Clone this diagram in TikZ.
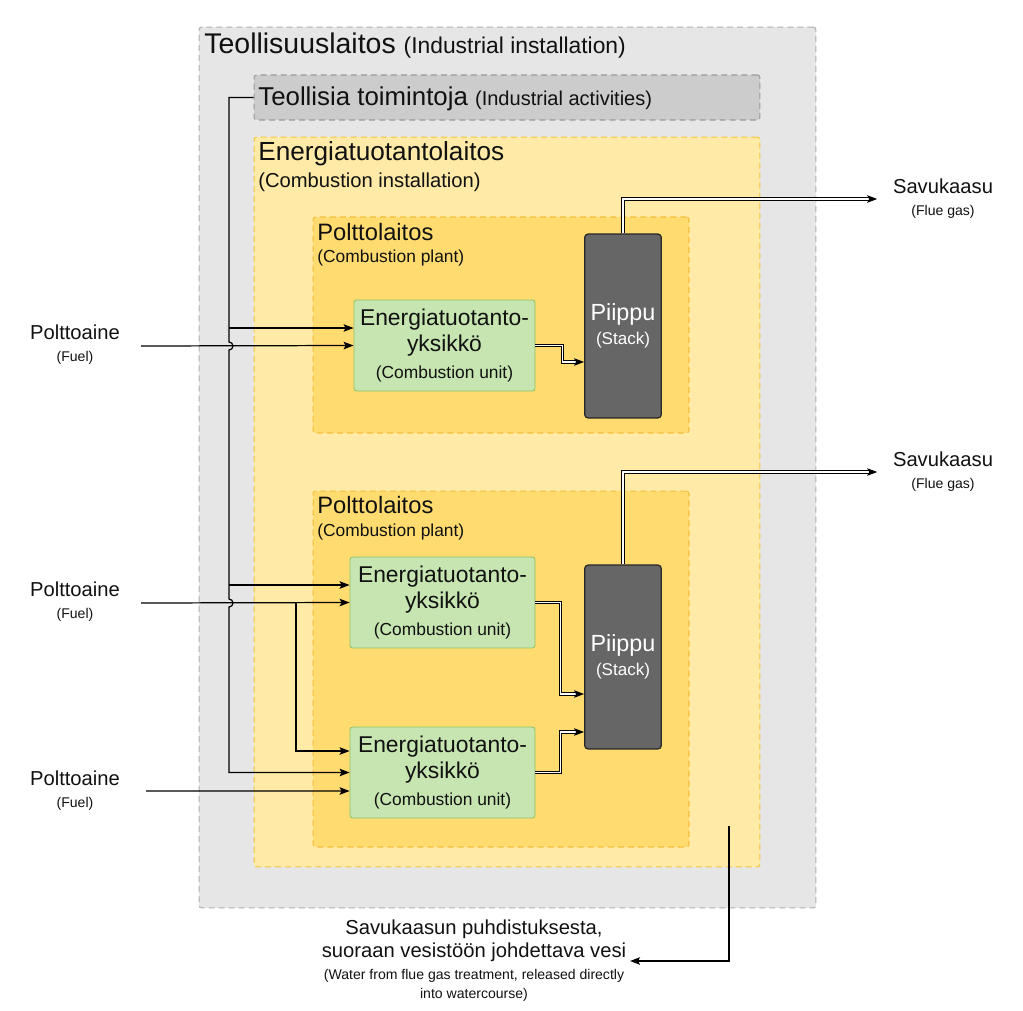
\documentclass[tikz,border=0pt]{standalone}
\usepackage{fontspec}
\setmainfont{Liberation Sans}
\usepackage{tikz}
\usetikzlibrary{arrows.meta,positioning}
\definecolor{InstFill}{HTML}{E6E6E6}
\definecolor{InstLine}{HTML}{B0B0B0}
\definecolor{ActFill}{HTML}{CCCCCC}
\definecolor{ActLine}{HTML}{9A9A9A}
\definecolor{EnergyFill}{HTML}{FFEAA7}
\definecolor{EnergyLine}{HTML}{F5C542}
\definecolor{PlantFill}{HTML}{FFDB70}
\definecolor{PlantLine}{HTML}{F2BE3C}
\definecolor{UnitFill}{HTML}{C6E5B1}
\definecolor{UnitLine}{HTML}{8DC26A}
\definecolor{StackFill}{HTML}{666666}
\definecolor{TextMain}{HTML}{111111}
\newcommand{\fsz}[2]{\fontsize{#1}{#2}\selectfont}

\begin{document}
\begin{tikzpicture}[x=0.02cm, y=-0.02cm,
  zone/.style={rectangle, rounded corners=1.5pt, dash pattern=on 3.4pt off 2.3pt, line width=0.6pt},
  instbox/.style={zone, draw=InstLine, fill=InstFill, minimum width=12.34cm, minimum height=17.62cm},
  actbox/.style={zone, draw=ActLine, fill=ActFill, minimum width=10.12cm, minimum height=0.9cm},
  energybox/.style={zone, draw=EnergyLine, fill=EnergyFill, minimum width=10.12cm, minimum height=14.6cm},
  plantbox/.style={zone, draw=PlantLine, fill=PlantFill, minimum width=7.52cm},
  unitbox/.style={rectangle, rounded corners=1.5pt, draw=UnitLine, fill=UnitFill, line width=0.5pt,
                  minimum width=3.7cm, minimum height=1.82cm, align=center, text=TextMain,
                  font=\fsz{13pt}{15.3pt}},
  stackbox/.style={rectangle, rounded corners=2pt, draw=black!85, fill=StackFill, line width=0.7pt,
                   minimum width=1.48cm, minimum height=3.68cm, align=center, text=white,
                   font=\fsz{13.3pt}{13.6pt}},
  ttl/.style={anchor=base west, inner sep=0pt, text=TextMain},
  side/.style={align=center, text=TextMain, font=\fsz{11.5pt}{12.6pt}, inner sep=2pt},
  arr/.style={-{Stealth[length=2mm, width=1.5mm, inset=0.4mm]}, line width=0.7pt},
  gas/.style={arr, double=white, double distance=0.9pt, line width=0.5pt},
]
  \useasboundingbox (0,0) rectangle (1023,1010);

  % Industrial installation
  \node[instbox] (inst) at (507.5,467.5) {};
  \node[ttl, font=\fsz{16.2pt}{19pt}] (instT) at (204,54) {Teollisuuslaitos {\fsz{13pt}{15pt}(Industrial installation)}};

  % Industrial activities
  \node[actbox] (activ) at (507,97.5) {};
  \node[ttl, font=\fsz{14.7pt}{17pt}] (activT) at (258,106) {Teollisia toimintoja {\fsz{11.4pt}{13pt}(Industrial activities)}};

  % Combustion installation
  \node[energybox] (energy) at (507,502) {};
  \node[ttl, font=\fsz{14.9pt}{17pt}] (energyT) at (258,161) {Energiatuotantolaitos};
  \node[ttl, font=\fsz{11.5pt}{13pt}] (energyS) at (258,188) {(Combustion installation)};

  % Combustion plants
  \node[plantbox, minimum height=4.32cm] (plantA) at (501,325) {};
  \node[ttl, font=\fsz{13.5pt}{16pt}] (plantAT) at (317,240) {Polttolaitos};
  \node[ttl, font=\fsz{9.9pt}{12pt}] (plantAS) at (317,262) {(Combustion plant)};
  \node[plantbox, minimum height=7.12cm] (plantB) at (501,669) {};
  \node[ttl, font=\fsz{13.5pt}{16pt}] (plantBT) at (317,513) {Polttolaitos};
  \node[ttl, font=\fsz{9.9pt}{12pt}] (plantBS) at (317,536) {(Combustion plant)};

  % Combustion units
  \node[unitbox, minimum width=3.62cm] (unitA) at (444.5,345.5) {Energiatuotanto-\\yksikkö\\{\fsz{9.9pt}{12pt}(Combustion unit)}};
  \node[unitbox] (unitB) at (442.5,602.5) {Energiatuotanto-\\yksikkö\\{\fsz{9.9pt}{12pt}(Combustion unit)}};
  \node[unitbox] (unitC) at (442.5,772.5) {Energiatuotanto-\\yksikkö\\{\fsz{9.9pt}{12pt}(Combustion unit)}};

  % Stacks
  \node[stackbox] (stackA) at (623,326) {Piippu\\{\fsz{9.7pt}{12pt}(Stack)}};
  \node[stackbox] (stackB) at (623,657) {Piippu\\{\fsz{9.7pt}{12pt}(Stack)}};

  % Outside labels
  \node[side] (fuelA) at (75,345) {Polttoaine\\{\fsz{8pt}{10pt}(Fuel)}};
  \node[side] (fuelB) at (75,602) {Polttoaine\\{\fsz{8pt}{10pt}(Fuel)}};
  \node[side] (fuelC) at (75,791) {Polttoaine\\{\fsz{8pt}{10pt}(Fuel)}};
  \node[side] (flueA) at (943,199) {Savukaasu\\{\fsz{8pt}{10pt}(Flue gas)}};
  \node[side] (flueB) at (943,472) {Savukaasu\\{\fsz{8pt}{10pt}(Flue gas)}};
  \node[side] (water) at (474,961) {Savukaasun puhdistuksesta,\\suoraan vesistöön johdettava vesi\\{\fsz{8pt}{10pt}(Water from flue gas treatment, released directly}\\[-1.5pt]{\fsz{8pt}{10pt}into watercourse)}};

  % Fuel lines
  \coordinate (inA) at (141,346);
  \coordinate (inB) at (141,603);
  \coordinate (inC) at (146,791);
  \coordinate (splitB) at (296,603);
  \draw[arr] (inA) -- (unitA.west);
  \draw[arr] (inB) -- (unitB.west);
  \draw[arr] (inC) -- ([yshift=-0.37cm]unitC.west);
  \draw[arr] (splitB) |- ([yshift=0.43cm]unitC.west);

  % Industrial activities bus
  \coordinate (busTop) at (229,97.5);
  \coordinate (tapA) at ([yshift=0.35cm]unitA.west);
  \coordinate (tapB) at ([yshift=0.35cm]unitB.west);
  \draw[arr] (activ.west) -- (busTop) -- (229,342)
    arc[start angle=90, end angle=-90, radius=0.08cm] -- (229,599)
    arc[start angle=90, end angle=-90, radius=0.08cm] |- (unitC.west);
  \draw[arr] (busTop |- tapA) -- (tapA);
  \draw[arr] (busTop |- tapB) -- (tapB);

  % Units to stacks
  \draw[gas] (unitA.east) -- ++(27,0) |- ([yshift=-0.72cm]stackA.west);
  \draw[gas] (unitB.east) -- ++(25,0) |- ([yshift=-0.74cm]stackB.west);
  \draw[gas] (unitC.east) -- ++(25,0) |- ([yshift=-1.5cm]stackB.west);

  % Flue gas out
  \draw[gas] (stackA.north) |- ([xshift=-0.24cm]flueA.west);
  \draw[gas] (stackB.north) |- ([xshift=-0.24cm]flueB.west);

  % Water out
  \coordinate (drain) at (729,826);
  \draw[arr] (drain) |- (water.east);
\end{tikzpicture}
\end{document}
